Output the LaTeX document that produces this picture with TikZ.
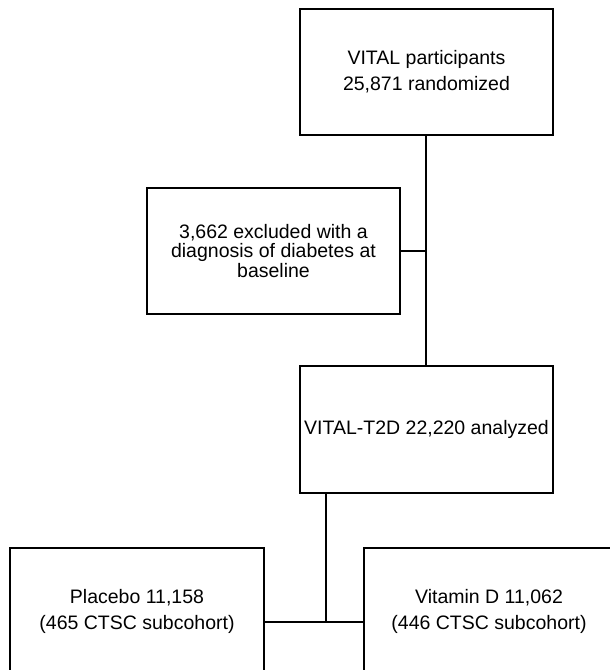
\documentclass[tikz,border=0pt]{standalone}
\usepackage{fontspec}
\setmainfont{Liberation Sans}
\begin{document}
\begin{tikzpicture}[x=1pt,y=-1pt,
  box/.style={draw, line width=1.8pt, align=center, inner sep=0pt,
    minimum height=126pt, font=\fontsize{19.5}{26}\selectfont},
  conn/.style={draw, line width=1.8pt}]
\useasboundingbox (0,0) rectangle (610,670);
\node[box, minimum width=253pt] (top) at (426.5,72) {VITAL participants\\25,871 randomized};
\node[box, minimum width=253pt, font=\fontsize{19.5}{19.5}\selectfont] (excl) at (273.5,251) {3,662 excluded with a\\diagnosis of diabetes at\\baseline};
\node[box, minimum width=253pt, minimum height=127pt] (t2d) at (426.5,429.5) {VITAL-T2D 22,220 analyzed};
\node[box, minimum width=254pt] (plac) at (137,611) {Placebo 11,158\\(465 CTSC subcohort)};
\node[box, minimum width=250pt] (vitd) at (489,611) {Vitamin D 11,062\\(446 CTSC subcohort)};
\coordinate (j) at (326,622);
\coordinate (v) at (426,0);
\draw[conn] (top.south -| v) -- (t2d.north -| v);
\draw[conn] (excl.east) -- (excl.east -| v);
\draw[conn] (t2d.south -| j) -- (j);
\draw[conn] (plac.east |- j) -- (vitd.west |- j);
\end{tikzpicture}
\end{document}
